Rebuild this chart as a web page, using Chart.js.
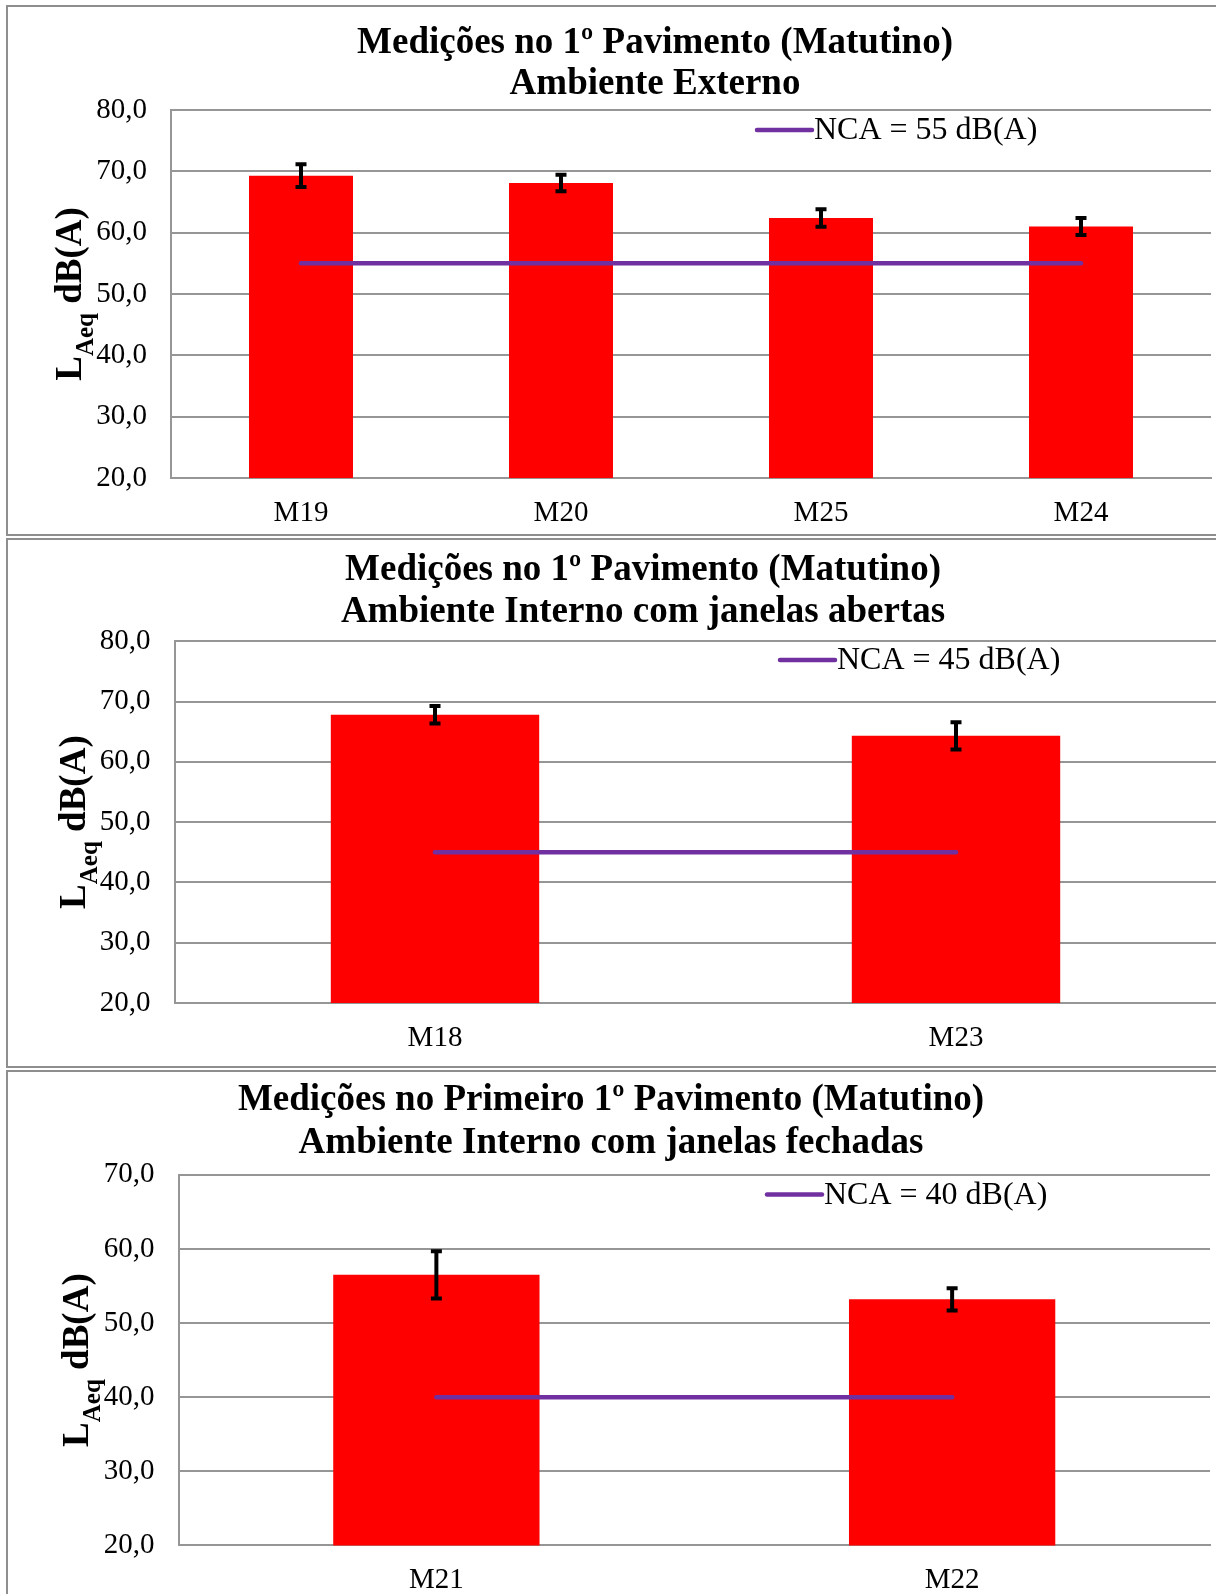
<!DOCTYPE html>
<html>
<head>
<meta charset="utf-8">
<title>Medições no 1º Pavimento (Matutino)</title>
<script src="https://cdn.jsdelivr.net/npm/chart.js@4.4.1/dist/chart.umd.min.js"></script>
<style>
  html, body { margin: 0; padding: 0; background: #fff; }
  body { width: 1216px; height: 1594px; overflow: hidden; position: relative; }
  .painel { position: absolute; left: 6px; width: 1300px; border: 2px solid #8e8e8e; box-sizing: border-box; }
  canvas { position: absolute; left: 0; }
</style>
</head>
<body>
<div class="painel" style="top:5px;height:531px"></div>
<div class="painel" style="top:538px;height:530px"></div>
<div class="painel" style="top:1070px;height:600px"></div>

<canvas id="grafico1" width="1240" height="536" style="top:0px"></canvas>
<canvas id="grafico2" width="1240" height="531" style="top:537px"></canvas>
<canvas id="grafico3" width="1240" height="526" style="top:1068px"></canvas>

<script>
// dados (LAeq médio e desvio)
const categorias1 = ['M19', 'M20', 'M25', 'M24'];
const valores1 = [69.3, 68.1, 62.4, 61.0];
const erros1 = [1.85, 1.35, 1.42, 1.39];
const nca1 = 55;
const ticks1 = [20, 30, 40, 50, 60, 70, 80];
const titulo1 = ['Medições no 1º Pavimento (Matutino)', 'Ambiente Externo'];

const categorias2 = ['M18', 'M23'];
const valores2 = [67.8, 64.3];
const erros2 = [1.45, 2.27];
const nca2 = 45;
const ticks2 = [20, 30, 40, 50, 60, 70, 80];
const titulo2 = ['Medições no 1º Pavimento (Matutino)', 'Ambiente Interno com janelas abertas'];

const categorias3 = ['M21', 'M22'];
const valores3 = [56.5, 53.2];
const erros3 = [3.2, 1.5];
const nca3 = 40;
const ticks3 = [20, 30, 40, 50, 60, 70];
const titulo3 = ['Medições no Primeiro 1º Pavimento (Matutino)', 'Ambiente Interno com janelas fechadas'];

const FONTE = "'Liberation Serif', 'Times New Roman', serif";
const CINZA = '#969696';

function fmt(v) {
  return v.toFixed(1).replace('.', ',');
}

// titulo, legenda, eixo y e barras de erro
function decorPlugin(cfg) {
  return {
    id: 'decor',
    afterDatasetsDraw(chart) {
      const ctx = chart.ctx;
      const ds = chart.data.datasets[0];
      const meta = chart.getDatasetMeta(0);
      const y = chart.scales.y;
      ctx.save();
      ctx.strokeStyle = '#000';
      ctx.lineWidth = 4;
      meta.data.forEach((bar, i) => {
        const top = y.getPixelForValue(ds.data[i] + ds.errors[i]);
        const bot = y.getPixelForValue(ds.data[i] - ds.errors[i]);
        ctx.beginPath();
        ctx.moveTo(bar.x, top);
        ctx.lineTo(bar.x, bot);
        ctx.moveTo(bar.x - 5.5, top);
        ctx.lineTo(bar.x + 5.5, top);
        ctx.moveTo(bar.x - 5.5, bot);
        ctx.lineTo(bar.x + 5.5, bot);
        ctx.stroke();
      });
      ctx.restore();
    },
    afterDraw(chart) {
      const ctx = chart.ctx;
      const area = chart.chartArea;
      ctx.save();
      ctx.fillStyle = '#000';

      // titulo
      ctx.font = 'bold 37px ' + FONTE;
      ctx.textAlign = 'center';
      ctx.textBaseline = 'alphabetic';
      cfg.titulo.forEach((linha, i) => ctx.fillText(linha, cfg.tituloX, cfg.tituloY[i]));

      // legenda (linha NCA)
      const linha = chart.data.datasets[1];
      ctx.strokeStyle = linha.borderColor;
      ctx.lineWidth = 4.5;
      ctx.lineCap = 'round';
      ctx.beginPath();
      ctx.moveTo(cfg.legX, cfg.legY);
      ctx.lineTo(cfg.legX + 55, cfg.legY);
      ctx.stroke();
      ctx.font = '32px ' + FONTE;
      ctx.textAlign = 'left';
      ctx.textBaseline = 'middle';
      ctx.fillText(linha.label, cfg.legX + 57, cfg.legY + 1);

      // titulo do eixo y: LAeq dB(A)
      const partes = [
        { t: 'L', f: 'bold 37px ' + FONTE, dy: 0 },
        { t: 'Aeq', f: 'bold 25px ' + FONTE, dy: 12 },
        { t: ' dB(A)', f: 'bold 37px ' + FONTE, dy: 0 }
      ];
      let total = 0;
      partes.forEach(p => { ctx.font = p.f; p.w = ctx.measureText(p.t).width; total += p.w; });
      ctx.translate(cfg.yTituloX, (area.top + area.bottom) / 2);
      ctx.rotate(-Math.PI / 2);
      ctx.textAlign = 'left';
      ctx.textBaseline = 'alphabetic';
      let x = -total / 2;
      partes.forEach(p => { ctx.font = p.f; ctx.fillText(p.t, x, p.dy); x += p.w; });
      ctx.restore();
    }
  };
}

function montaGrafico(id, cats, vals, errs, nca, ticks, titulo, lay) {
  const canvas = document.getElementById(id);
  const W = canvas.width, H = canvas.height;
  return new Chart(canvas.getContext('2d'), {
    type: 'bar',
    data: {
      labels: cats,
      datasets: [
        {
          label: 'LAeq',
          data: vals,
          errors: errs,
          backgroundColor: '#FF0000',
          categoryPercentage: 0.8,
          barPercentage: 0.5,
          order: 1
        },
        {
          type: 'line',
          label: 'NCA = ' + nca + ' dB(A)',
          data: cats.map(() => nca),
          borderColor: '#7030A0',
          borderWidth: 4.5,
          borderCapStyle: 'round',
          pointRadius: 0,
          fill: false,
          order: 0
        }
      ]
    },
    options: {
      responsive: false,
      animation: false,
      devicePixelRatio: 1,
      layout: { padding: { top: lay.top, left: 0, right: W - lay.right, bottom: 0 } },
      plugins: { legend: { display: false }, tooltip: { enabled: false }, title: { display: false } },
      scales: {
        x: {
          grid: { display: false, drawTicks: false },
          border: { display: true, color: CINZA, width: 2 },
          ticks: { color: '#000', font: { family: FONTE, size: 29 }, padding: 18 },
          afterFit: s => { s.height = H - lay.bottom; }
        },
        y: {
          min: ticks[0],
          max: ticks[ticks.length - 1],
          afterBuildTicks: s => { s.ticks = ticks.map(v => ({ value: v })); },
          grid: { color: CINZA, lineWidth: 2, drawTicks: false },
          border: { display: true, color: CINZA, width: 2 },
          ticks: { color: '#000', font: { family: FONTE, size: 29 }, padding: 24, callback: v => fmt(v) },
          afterFit: s => { s.width = lay.left; }
        }
      }
    },
    plugins: [decorPlugin(Object.assign({ titulo: titulo }, lay))]
  });
}

montaGrafico('grafico1', categorias1, valores1, erros1, nca1, ticks1, titulo1,
  { left: 171, right: 1211, top: 110, bottom: 478, tituloX: 655, tituloY: [53, 94], yTituloX: 81, legX: 757, legY: 130 });

montaGrafico('grafico2', categorias2, valores2, erros2, nca2, ticks2, titulo2,
  { left: 174.5, right: 1216.5, top: 104.2, bottom: 466, tituloX: 643, tituloY: [43, 85], yTituloX: 85, legX: 780, legY: 123 });

montaGrafico('grafico3', categorias3, valores3, erros3, nca3, ticks3, titulo3,
  { left: 178.5, right: 1210, top: 106.8, bottom: 477.4, tituloX: 611, tituloY: [42.4, 85], yTituloX: 88, legX: 767, legY: 126.5 });
</script>
</body>
</html>
